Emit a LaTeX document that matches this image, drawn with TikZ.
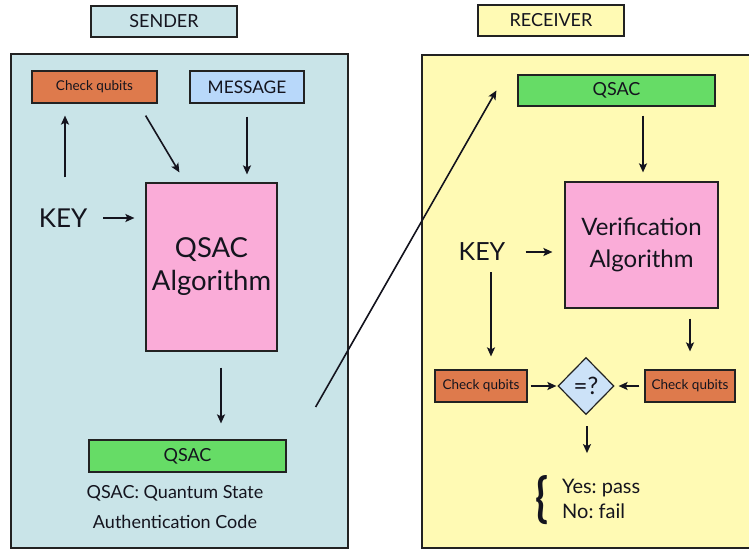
\documentclass[tikz,border=0pt]{standalone}
\usepackage{fontspec}
\setmainfont{Lato}
\usetikzlibrary{shapes.geometric,arrows.meta,calc}
\definecolor{sendbg}{RGB}{201,228,232}
\definecolor{recvbg}{RGB}{255,250,180}
\definecolor{chkcol}{RGB}{222,122,76}
\definecolor{msgcol}{RGB}{184,216,250}
\definecolor{qsaccol}{RGB}{102,220,102}
\definecolor{algcol}{RGB}{250,172,216}
\definecolor{diacol}{RGB}{204,226,248}
\definecolor{edge}{RGB}{34,34,34}
\definecolor{ink}{RGB}{20,20,30}
\frenchspacing
\tikzset{
  box/.style={draw=edge, line width=1.2pt, inner sep=0pt, text=ink},
  txt/.style={inner sep=0pt, text=ink},
  arr/.style={-{Stealth[length=9pt,width=8pt,inset=2pt]}, line width=1.6pt, draw=ink},
  panel/.style={draw=edge, line width=1.2pt}
}
\begin{document}
\begin{tikzpicture}[x=1pt,y=-1pt]
\clip (0,0) rectangle (749,549);
\fill[white] (0,0) rectangle (749,549);
% panels
\draw[panel, fill=sendbg] (11,54) rectangle (348,548);
\draw[panel, fill=recvbg] (422,55) rectangle (760,548);
% headers
\node[box, fill=sendbg, minimum width=146, minimum height=31, font=\fontsize{18}{20}\selectfont] (sender) at (164,21.5) {SENDER};
\node[box, fill=recvbg, minimum width=146, minimum height=31, font=\fontsize{18}{20}\selectfont] (receiver) at (551,20.5) {RECEIVER};
% sender
\node[box, fill=chkcol, minimum width=125, minimum height=32, font=\fontsize{13.5}{15}\selectfont] (chk1) at (94.5,87) {Check qubits};
\node[box, fill=msgcol, minimum width=114, minimum height=32, font=\fontsize{17.3}{19}\selectfont] (msg) at (247,87) {MESSAGE};
\node[box, fill=algcol, minimum width=131, minimum height=168, align=center, font=\fontsize{27.5}{33}\selectfont] (alg) at (211.5,267) {QSAC\\Algorithm};
\node[txt, font=\fontsize{26}{30}\selectfont] (key1) at (63,218) {KEY};
\node[box, fill=qsaccol, minimum width=197, minimum height=32, font=\fontsize{18}{20}\selectfont] (qsac1) at (187.5,456) {QSAC};
\node[txt, align=center, font=\fontsize{18}{30}\selectfont] (cap) at (175,507) {QSAC: Quantum State\\Authentication Code};
% sender arrows
\draw[arr] ($(key1.north)+(2,-31)$) -- ($(chk1.south -| key1.north)+(2,12)$);
\draw[arr] ($(chk1.south east)+(-12,12)$) -- ($(alg.north west)+(34,-10)$);
\draw[arr] ($(msg.south)+(0,13)$) -- ($(msg.south |- alg.north)+(0,-8)$);
\draw[arr, shorten <=16pt, shorten >=11pt] (key1.east) -- (key1.east -| alg.west);
\draw[arr] ($(alg.south)+(9.5,16)$) -- ($(qsac1.north)+(33.5,-16)$);
% receiver
\node[box, fill=qsaccol, minimum width=197, minimum height=31, font=\fontsize{18}{20}\selectfont] (qsac2) at (616.5,90.5) {QSAC};
\node[box, fill=algcol, minimum width=153, minimum height=126, align=center, font=\fontsize{24}{32}\selectfont] (ver) at (641.5,245) {Verification\\Algorithm};
\node[txt, font=\fontsize{25}{28}\selectfont] (key2) at (482,252) {KEY};
\node[box, fill=chkcol, minimum width=92, minimum height=32, font=\fontsize{13.5}{15}\selectfont] (chk2) at (481,386) {Check qubits};
\node[box, fill=chkcol, minimum width=90, minimum height=32, font=\fontsize{13.5}{15}\selectfont] (chk3) at (690,386) {Check qubits};
\node[box, fill=diacol, shape=diamond, minimum width=56, minimum height=57, font=\fontsize{24}{26}\selectfont] (dia) at (586,386) {=?};
\node[txt, font=\fontsize{53}{53}\selectfont\bfseries] (brace) at (542,500) {\scalebox{0.8}[1]{\{}};
\node[txt, anchor=west, align=left, font=\fontsize{20}{25}\selectfont] (res) at (562,499) {Yes: pass\\No: fail};
% receiver arrows
\draw[arr] ($(qsac1.east)+(29,-49)$) -- ($(qsac2.west)+(-21,0)$);
\draw[arr] ($(qsac2.south)+(26.5,9)$) -- ($(ver.north)+(1.5,-9)$);
\draw[arr, shorten <=20pt, shorten >=12pt] (key2.east) -- (key2.east -| ver.west);
\draw[arr] ($(key2.south)+(9,11)$) -- ($(chk2.north -| key2.south)+(9,-13)$);
\draw[arr] ($(ver.south)+(48.5,10)$) -- ($(chk3.north)+(0,-18)$);
\draw[arr] ($(chk2.east)+(3,0)$) -- ($(dia.west)+(-1,0)$);
\draw[arr] ($(chk3.west)+(-5,0)$) -- ($(dia.east)+(4,0)$);
\draw[arr] ($(dia.south)+(1,11)$) -- ($(dia.south)+(1,38)$);
\end{tikzpicture}
\end{document}
